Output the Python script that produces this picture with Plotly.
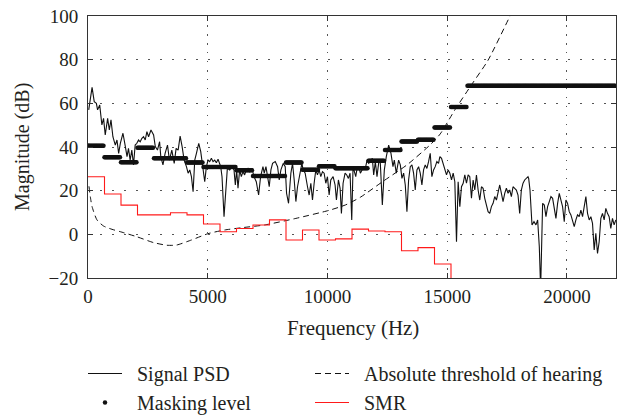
import numpy as np
import plotly.graph_objects as go

# ---------------- data ----------------
FS_HALF = 22050
N_SUBBANDS = 32
BINS_PER_SUBBAND = 16

psd_freq = [30, 170, 260, 350, 400, 490, 580, 650, 720, 820, 890, 960, 1040, 1140, 1210, 1280,
            1350, 1460, 1560, 1630, 1690, 1760, 1830, 1900, 1970, 2040, 2110, 2180, 2250, 2320,
            2390, 2460, 2530, 2630, 2740, 2810, 2900, 2990, 3040, 3130, 3220, 3320, 3400, 3500,
            3600, 3680,
            3764, 3847, 3931, 4014, 4111, 4181, 4250, 4319, 4389, 4458, 4528, 4625, 4708, 4806,
            4875, 4944, 5014, 5083, 5153, 5222, 5292, 5361, 5431, 5542, 5597, 5681, 5764, 5819,
            5917, 6014, 6097, 6153, 6208, 6264, 6333, 6403, 6472, 6542, 6611, 6681, 6750, 6847,
            6931, 7028, 7125, 7208, 7306,
            7361, 7431, 7500, 7569, 7639, 7708, 7819, 7917, 7986, 8056, 8153, 8236, 8292, 8375,
            8472, 8542, 8611, 8681, 8750, 8847, 8931, 8986, 9069, 9167, 9236, 9306, 9375, 9444,
            9514, 9583, 9653, 9722, 9792, 9861, 9931, 10000, 10070, 10139, 10236, 10319, 10375,
            10458, 10528, 10583, 10653, 10736, 10806, 10875, 10944, 11014,
            11069, 11125, 11181, 11236, 11306, 11375, 11444, 11514, 11583, 11653, 11722, 11792,
            11875, 11931, 12000, 12069, 12153, 12208, 12292, 12375, 12458, 12556, 12653, 12736,
            12792, 12875, 12972, 13042, 13111, 13181, 13250, 13319, 13389, 13458, 13528, 13597,
            13667, 13736, 13806, 13875, 13944, 14014, 14083, 14153, 14222, 14292, 14361, 14431,
            14500, 14569, 14639,
            14694, 14764, 14833, 14903, 14972, 15042, 15111, 15181, 15250, 15319, 15389, 15458,
            15528, 15597, 15667, 15736, 15806, 15875, 15944, 16014, 16083, 16153, 16222, 16292,
            16361, 16431, 16500, 16569, 16639, 16708, 16778, 16847, 16917, 16986, 17056, 17125,
            17194, 17264, 17333, 17403, 17472, 17542, 17611, 17681, 17750, 17819, 17889, 17958,
            18028, 18097, 18167, 18236, 18306, 18375,
            18403, 18458, 18542, 18625, 18708, 18778, 18847, 18903, 18986, 19056, 19125, 19194,
            19264, 19333, 19403, 19472, 19542, 19611, 19681, 19750, 19819, 19889, 19958, 20028,
            20097, 20167, 20236, 20306, 20375, 20444, 20514, 20583, 20653, 20722, 20792, 20861,
            20931, 21000, 21069, 21139, 21208, 21278, 21347, 21417, 21486, 21556, 21625, 21694,
            21764, 21833, 21903, 21972, 22042]

psd_db = [57, 67.3, 60.8, 60, 57, 59.2, 50.1, 53.1, 45.5, 53.1, 47.8, 52.4, 44.7, 40.9, 43.2, 37.1,
          41.7, 46.3, 40.2, 35.6, 39.4, 34, 38.6, 31.8, 40.9, 41.7, 43.2, 42.4, 44, 44.7,
          43.2, 47, 44.7, 47.8, 45.5, 40.2, 38.6, 42.4, 35.6, 31.8, 37.1, 40.9, 34, 38.6,
          32.5, 39.4,
          38.6, 45, 40.2, 34, 31, 28, 29.5, 26.4, 19.5, 34, 37.1, 41.7, 37.9, 31,
          24.1, 31, 34, 33.3, 34.8, 33.3, 34, 32.8, 34.4, 31, 26.4, 8.1, 23.4, 30.2,
          29.5, 31, 29.5, 22.6, 29.5, 21.1, 29.5, 26.4, 28.7, 27.2, 29.5, 30.2, 28.7, 30.2,
          26.4, 24.1, 18, 26.4, 31,
          28, 31, 26.4, 21.8, 29.5, 32.5, 33.3, 31, 24.9, 29.5, 32.5, 31, 18.8, 14.2,
          28, 32.5, 24.9, 15, 21.8, 28, 32.5, 29.5, 28, 21.8, 18, 23.4, 15.7, 23.4,
          29.5, 27.2, 29.5, 26.4, 28.7, 28, 23.4, 26.4, 18, 24.9, 26.4, 22.6, 15.7,
          24.9, 21.1, 9.6, 23.4, 28, 27.2, 25.6, 28, 6.6,
          31, 28.7, 26.4, 30.2, 31, 28, 29.5, 31, 30.2, 34, 32.5, 33.3,
          34.8, 27.2, 33.3, 26.4, 34, 32.5, 13.4, 29.5, 35.6, 40.9, 37.1, 31,
          34, 28, 34, 31.8, 25.6, 28, 22.6, 10.4, 24.9, 31, 31.8, 28,
          20.3, 29.5, 31, 28, 22.6, 29.5, 31.8, 30.2, 33.3, 37.1, 26.4, 29.5,
          31, 33.3, 32.5,
          35.6, 34.8, 32.5, 29.5, 27.2, 29.5, 28, 24.9, 28, 24.1, -3.4, 24.1,
          12.7, 21.8, 23.4, 27.2, 23.4, 27.2, 26.4, 16.5, 24.9, 20.3, 27.2, 20.3,
          15.7, 21.8, 21.1, 16.5, 12.7, 10.4, 9.6, 12.7, 14.2, 17.3, 15.7, 18.8,
          22.6, 18.8, 15, 18.8, 21.1, 18.8, 20.3, 17.3, 21.8, 21.1, 20.3, 18,
          9.6, 20.3, 23.4, 24.9, 25.6, 26.4,
          25.6, 20.3, 4.3, 5.8, 4.3, 6.6, -5.6, -25, 14.2, 13.4, 8.1, 12.7,
          15, 17.3, 16.5, 12.7, 7.3, 14.2, 18.8, 15.7, 12.7, 5.8, 15.7, 14.2,
          10.4, 8.9, 6.6, 3.5, 6.6, 8.9, 8.1, 11.1, 8.1, 12.7, 17.3, 9.6,
          6.6, 8.1, 5, -7.2, 0.5, -8.7, -3.4, 7.3, 9.6, 6.6, 11.9, 9.6,
          8.1, 2.7, 7.3, 4.3, 6.6]

# masking level per subband (dB)
masking_db = [40.6, 35.3, 33.0, 39.7, 34.8, 34.8, 32.9, 30.8, 30.8, 29.4, 26.7, 26.7,
              32.9, 29.6, 31.2, 30.3, 30.3, 33.7, 38.6, 42.5, 43.3, 48.9, 58.3,
              68, 68, 68, 68, 68, 68, 68, 68, 68]

# signal-to-mask ratio per subband (dB)
smr_db = [26.4, 18.5, 13.4, 8.9, 8.9, 9.9, 8.9, 4.7, 1.2, 2.7, 4.3, 6.6,
          -2.6, 2.0, -2.6, -2.1, 2.4, 1.5, 1.2, -7.5, -6.1, -13.6,
          -40, -40, -40, -40, -40, -40, -40, -40, -40, -40]

# absolute threshold of hearing
ath_freq = [40, 100, 170, 375, 650, 1000, 1350, 2040, 2740, 3300, 3700, 4320, 5010, 5710,
            6400, 7375, 8680, 10070, 10760, 11375, 12350, 13320, 14290, 14710, 15320, 16010,
            16710, 17625, 17900]
ath_db = [22, 17, 12.7, 6.6, 3.8, 2.3, 1.2, -1.1, -3.8, -5.0, -4.9, -2.6, 0.3, 2.0,
          3.0, 4.3, 7.3, 11, 13.5, 17, 24.5, 31.8, 41, 46, 57, 68.4, 79.8, 100, 106]

x_ticks = [0, 5000, 10000, 15000, 20000]
x_tick_labels = ["0", "5000", "10000", "15000", "20000"]
y_ticks = [-20, 0, 20, 40, 60, 80, 100]

# ---------------- derived ----------------
sb_width = FS_HALF / N_SUBBANDS
sb_edges = [i * sb_width for i in range(N_SUBBANDS + 1)]
bin_freq = [k * sb_width / BINS_PER_SUBBAND for k in range(N_SUBBANDS * BINS_PER_SUBBAND)]
bin_mask = [masking_db[k // BINS_PER_SUBBAND] for k in range(len(bin_freq))]

FONT = "Liberation Serif"
TXT = "#231f20"
NB = "\u00a0\u00a0"
W, H = 627, 415

fig = go.Figure()
fig.add_trace(go.Scatter(x=psd_freq, y=psd_db, mode="lines", name=NB + "Signal PSD",
                         line=dict(color="#111", width=1.1), legend="legend"))
fig.add_trace(go.Scatter(x=bin_freq, y=bin_mask, mode="markers", name=NB + "Masking level",
                         marker=dict(color="#111", size=4.5, line=dict(width=0)), legend="legend"))
fig.add_trace(go.Scatter(x=ath_freq, y=ath_db, mode="lines", name=NB + "Absolute threshold of hearing",
                         line=dict(color="#111", width=1, dash="6px,4px", shape="spline", smoothing=0.6),
                         legend="legend2"))
fig.add_trace(go.Scatter(x=sb_edges, y=smr_db + [smr_db[-1]], mode="lines", name=NB + "SMR",
                         line=dict(color="#ff1a1a", width=1.1, shape="hv"), legend="legend2"))

axis_common = dict(showline=True, linecolor="#333", linewidth=1, mirror="ticks",
                   ticks="inside", ticklen=5, tickcolor="#333", zeroline=False,
                   showgrid=True, gridcolor="#555", gridwidth=1.2, automargin=False,
                   tickfont=dict(family=FONT, size=19, color=TXT))

fig.update_layout(
    width=W, height=H,
    margin=dict(l=88, r=11, t=16, b=137, autoexpand=False),
    paper_bgcolor="white", plot_bgcolor="white",
    font=dict(family=FONT, size=19, color=TXT),
    xaxis=dict(range=[0, FS_HALF], tickvals=x_ticks, ticktext=x_tick_labels,
               griddash="1.5px,7.5px", ticklabelstandoff=1, **axis_common),
    yaxis=dict(range=[-20, 100], tickvals=y_ticks, griddash="1.5px,10.5px",
               ticklabelstandoff=5, **axis_common),
    legend=dict(xref="container", yref="container", x=83 / W, y=1 - 354 / H,
                xanchor="left", yanchor="top", itemwidth=34, bgcolor="rgba(0,0,0,0)",
                font=dict(family=FONT, size=20, color=TXT), tracegroupgap=0),
    legend2=dict(xref="container", yref="container", x=310 / W, y=1 - 354 / H,
                 xanchor="left", yanchor="top", itemwidth=34, bgcolor="rgba(0,0,0,0)",
                 font=dict(family=FONT, size=20, color=TXT), tracegroupgap=0),
    annotations=[
        dict(text="Frequency (Hz)", xref="paper", yref="paper", x=0.502, y=(278 - 328) / 262,
             xanchor="center", yanchor="middle", showarrow=False,
             font=dict(family=FONT, size=21, color=TXT)),
        dict(text="Magnitude (dB)", xref="paper", yref="paper", x=(22 - 88) / 528, y=0.5,
             xanchor="center", yanchor="middle", textangle=-90, showarrow=False,
             font=dict(family=FONT, size=20, color=TXT)),
    ],
    showlegend=True,
)

fig.write_html("out.html", config={"displayModeBar": False},
               post_script="document.body.style.margin='0';")
